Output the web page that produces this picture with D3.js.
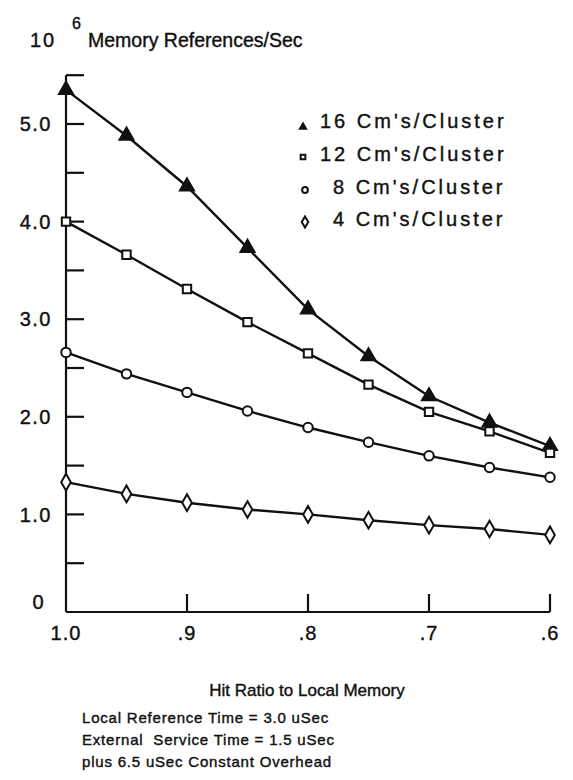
<!DOCTYPE html>
<html>
<head>
<meta charset="utf-8">
<script src="https://cdn.jsdelivr.net/npm/d3@7"></script>
<style>
  body { margin: 0; background: #fff; }
  svg { font-family: "Liberation Sans", Arial, sans-serif; }
  text { fill: #111; stroke: #111; stroke-width: 0.4px; }
</style>
</head>
<body>
<div id="chart"></div>
<script>
// hit ratio (x) and memory references per second, in millions
const hitRatio = [1.0, 0.95, 0.9, 0.85, 0.8, 0.75, 0.7, 0.65, 0.6];
const cm16 = [5.35, 4.88, 4.36, 3.73, 3.10, 2.62, 2.21, 1.94, 1.70];
const cm12 = [4.00, 3.66, 3.31, 2.97, 2.65, 2.33, 2.05, 1.85, 1.63];
const cm8  = [2.66, 2.44, 2.25, 2.06, 1.89, 1.74, 1.60, 1.48, 1.38];
const cm4  = [1.33, 1.21, 1.12, 1.05, 1.00, 0.94, 0.89, 0.85, 0.79];
const seriesNames = ["16 Cm's/Cluster", "12 Cm's/Cluster", "8 Cm's/Cluster", "4 Cm's/Cluster"];
const xTicks = [1.0, 0.9, 0.8, 0.7, 0.6];
const xTickLabels = ["1.0", ".9", ".8", ".7", ".6"];
const yTicks = [1, 2, 3, 4, 5];
const yTickLabels = ["1.0", "2.0", "3.0", "4.0", "5.0"];
const notes = [
  "Local Reference Time = 3.0 uSec",
  "External  Service Time = 1.5 uSec",
  "plus 6.5 uSec Constant Overhead"
];

const W = 573, H = 780;
const x = d3.scaleLinear().domain([1.0, 0.6]).range([66, 550]);
const y = d3.scaleLinear().domain([0, 5]).range([612, 124]);

const svg = d3.select("#chart").append("svg")
  .attr("width", W)
  .attr("height", H);

// title
svg.append("text")
  .attr("x", 30)
  .attr("y", 47)
  .style("font-size", "20px")
  .style("letter-spacing", "2px")
  .text("10");
svg.append("text")
  .attr("x", 72)
  .attr("y", 29)
  .style("font-size", "16px")
  .text("6");
svg.append("text")
  .attr("x", 88)
  .attr("y", 47)
  .style("font-size", "19.5px")
  .text("Memory References/Sec");

// axes (drawn by hand to get the inward ticks)
const axisG = svg.append("g")
  .attr("stroke", "#111")
  .attr("stroke-width", 2.2)
  .attr("fill", "none");

axisG.append("line")
  .attr("x1", x(1.0)).attr("x2", x(1.0))
  .attr("y1", y(0)).attr("y2", y(5.5));
axisG.append("line")
  .attr("x1", x(1.0)).attr("x2", x(0.6))
  .attr("y1", y(0)).attr("y2", y(0));

axisG.selectAll(".ytick")
  .data(d3.range(0.5, 5.51, 0.5))
  .enter().append("line")
  .attr("class", "ytick")
  .attr("x1", x(1.0)).attr("x2", x(1.0) + 18)
  .attr("y1", d => y(d)).attr("y2", d => y(d));

axisG.selectAll(".xtick")
  .data(xTicks.slice(1))
  .enter().append("line")
  .attr("class", "xtick")
  .attr("x1", d => x(d)).attr("x2", d => x(d))
  .attr("y1", y(0)).attr("y2", y(0) - 18);

svg.selectAll(".ylabel")
  .data(yTicks)
  .enter().append("text")
  .attr("class", "ylabel")
  .attr("x", 52)
  .attr("y", d => y(d))
  .attr("dy", "0.36em")
  .attr("text-anchor", "end")
  .style("font-size", "20px")
  .style("letter-spacing", "1.5px")
  .text((d, i) => yTickLabels[i]);

svg.append("text")
  .attr("x", 38)
  .attr("y", y(0) - 10)
  .attr("dy", "0.36em")
  .attr("text-anchor", "middle")
  .style("font-size", "20px")
  .text("0");

svg.selectAll(".xlabel")
  .data(xTicks)
  .enter().append("text")
  .attr("class", "xlabel")
  .attr("x", d => x(d))
  .attr("y", 640)
  .attr("text-anchor", "middle")
  .style("font-size", "20px")
  .style("letter-spacing", "1px")
  .text((d, i) => xTickLabels[i]);

svg.append("text")
  .attr("x", 307)
  .attr("y", 696)
  .attr("text-anchor", "middle")
  .style("font-size", "17px")
  .text("Hit Ratio to Local Memory");

svg.selectAll(".note")
  .data(notes)
  .enter().append("text")
  .attr("class", "note")
  .attr("x", 82)
  .attr("y", (d, i) => 723 + i * 22)
  .style("font-size", "15px")
  .style("letter-spacing", "0.8px")
  .style("white-space", "pre")
  .text(d => d);

// series
const series = [cm16, cm12, cm8, cm4].map((vals, k) => ({
  name: seriesNames[k],
  values: vals.map((v, i) => ({ h: hitRatio[i], v: v }))
}));

const line = d3.line()
  .x(d => x(d.h))
  .y(d => y(d.v));

svg.selectAll(".series")
  .data(series)
  .enter().append("path")
  .attr("class", "series")
  .attr("d", d => line(d.values))
  .attr("fill", "none")
  .attr("stroke", "#111")
  .attr("stroke-width", 2.4);

// marker shapes: triangle (filled), square, circle, diamond
const shapes = [d3.symbolTriangle, d3.symbolSquare, d3.symbolCircle, d3.symbolDiamond];
const shapeSizes = [85, 70, 70, 80];
const filled = [true, false, false, false];

series.forEach((s, k) => {
  svg.selectAll(".pt" + k)
    .data(s.values)
    .enter().append("path")
    .attr("class", "pt" + k)
    .attr("transform", d => `translate(${x(d.h)},${y(d.v)})`)
    .attr("d", d3.symbol().type(shapes[k]).size(shapeSizes[k]))
    .attr("fill", filled[k] ? "#111" : "#fff")
    .attr("stroke", "#111")
    .attr("stroke-width", 2);
});

// legend
const legendRows = [121, 154, 187, 219];
const legend = svg.selectAll(".legend")
  .data(series)
  .enter().append("g")
  .attr("class", "legend")
  .attr("transform", (d, i) => `translate(0,${legendRows[i]})`);

legend.append("path")
  .attr("transform", (d, i) => `translate(${i < 2 ? 303 : 305},${i === 0 ? 6 : 3})`)
  .attr("d", (d, i) => d3.symbol().type(shapes[i]).size([16, 22, 26, 36][i])())
  .attr("fill", (d, i) => filled[i] ? "#111" : "#fff")
  .attr("stroke", "#111")
  .attr("stroke-width", 2);

legend.append("text")
  .attr("x", (d, i) => i < 2 ? 320 : 333)
  .attr("dy", "0.36em")
  .style("font-size", "20px")
  .style("letter-spacing", "3px")
  .text(d => d.name);
</script>
</body>
</html>
